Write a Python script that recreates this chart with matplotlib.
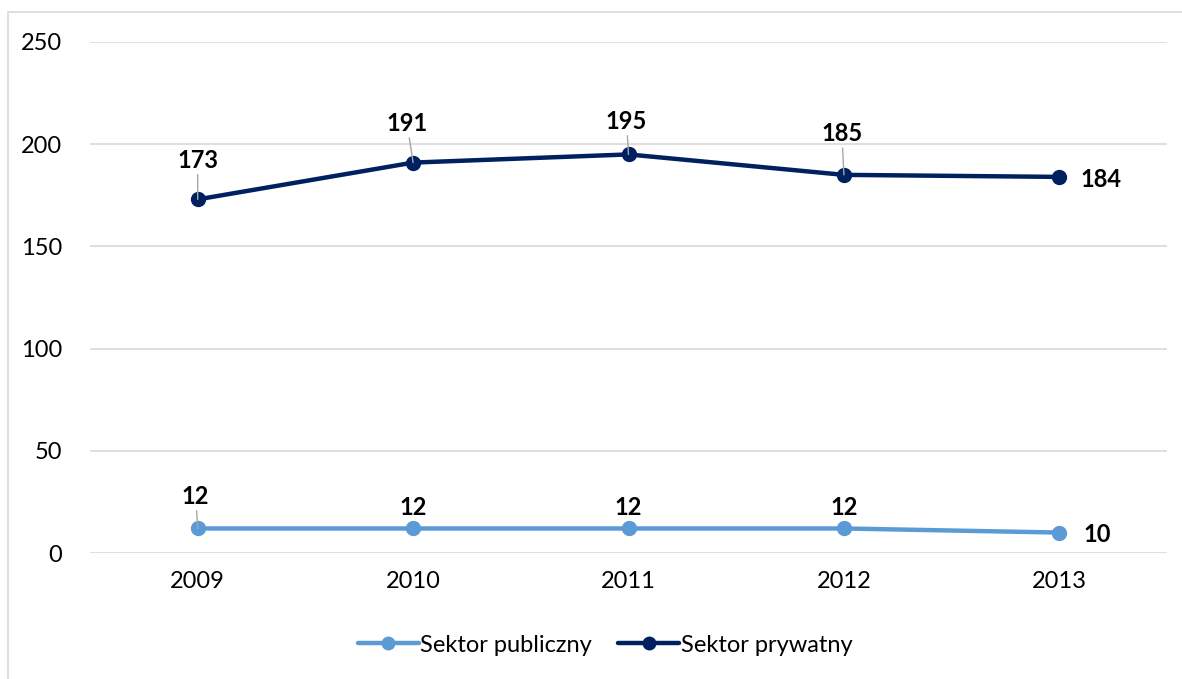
import matplotlib

matplotlib.use("Agg")

from matplotlib import pyplot as plt
from matplotlib.patches import Rectangle

plt.rcParams["font.family"] = ["Lato", "DejaVu Sans"]

years = ["2009", "2010", "2011", "2012", "2013"]
publiczny = [12, 12, 12, 12, 10]
prywatny = [173, 191, 195, 185, 184]
y_ticks = [0, 50, 100, 150, 200, 250]

# label offsets in pixels from the point (dx, dy), and whether a leader line is drawn
prywatny_offsets = [(0, 39, True), (-6, 39, True), (-2, 33, True), (-2, 41, True), (42, -3, False)]
publiczny_offsets = [(-2, 32, True), (0, 21, False), (0, 21, False), (0, 21, False), (38, -2, False)]

light_blue = "#5B9BD5"
navy = "#002060"
grid_grey = "#D9D9D9"

fig = plt.figure(figsize=(11.82, 6.79), dpi=100)
fig.patches.append(
    Rectangle((8 / 1182, -0.1), 1.2, (679 - 12) / 679 + 0.1, transform=fig.transFigure,
              fill=False, edgecolor=grid_grey, linewidth=1.2)
)
ax = fig.add_axes([90 / 1182, (679 - 553) / 679, 1077 / 1182, 511 / 679])

x = list(range(len(years)))
ax.plot(x, publiczny, color=light_blue, linewidth=3.2, marker="o", markersize=10,
        solid_capstyle="round", label="Sektor publiczny", zorder=3)
ax.plot(x, prywatny, color=navy, linewidth=3.2, marker="o", markersize=10,
        solid_capstyle="round", label="Sektor prywatny", zorder=3)

for values, offsets in ((prywatny, prywatny_offsets), (publiczny, publiczny_offsets)):
    for i, (value, (dx, dy, leader)) in enumerate(zip(values, offsets)):
        arrow = None
        if leader:
            arrow = dict(arrowstyle="-", color="#A6A6A6", linewidth=1, shrinkA=0, shrinkB=0)
        ax.annotate(str(value), xy=(i, value), xytext=(dx, dy), textcoords="offset pixels",
                    ha="center", va="center", fontsize=17, fontweight="bold",
                    color="black", arrowprops=arrow, zorder=4)

ax.set_xlim(-0.5, len(years) - 0.5)
ax.set_ylim(0, 250)
ax.set_yticks(y_ticks)
ax.set_xticks(x)
ax.set_xticklabels(years)
ax.tick_params(axis="both", length=0, labelsize=17, colors="black")
ax.tick_params(axis="y", pad=20)
ax.tick_params(axis="x", pad=13)
ax.grid(axis="y", color=grid_grey, linewidth=1.2)
ax.set_axisbelow(True)
for spine in ax.spines.values():
    spine.set_visible(False)

fig.legend(loc="center", bbox_to_anchor=(605 / 1182, 1 - 645 / 679), ncol=2, frameon=False,
           fontsize=17, handlelength=2.6, handletextpad=0.05, columnspacing=1.1,
           markerscale=0.9)

fig.savefig("out.png", dpi=100)
